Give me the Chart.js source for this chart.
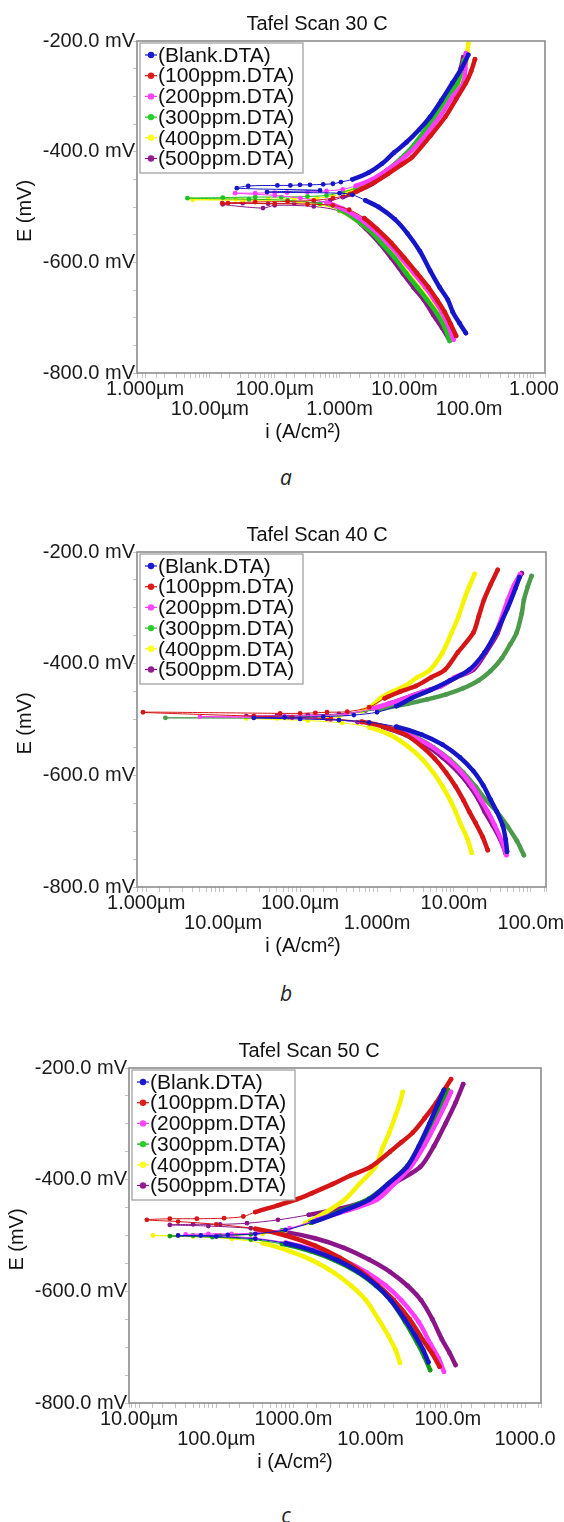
<!DOCTYPE html>
<html lang="en">
<head>
<meta charset="UTF-8">
<title>Tafel Scans</title>
<script src="https://cdn.jsdelivr.net/npm/chart.js@4.4.2/dist/chart.umd.min.js"></script>
<style>
  body { margin: 0; background: #fff; }
  .page { position: relative; width: 564px; height: 1522px; overflow: hidden; background: #fff; }
  .panel { position: absolute; left: 0; width: 564px; height: 450px; }
  .cap { position: absolute; width: 30px; text-align: center; font-family: 'Open Sans', sans-serif;
         font-style: italic; font-size: 21px; line-height: 24px; color: #222; }
</style>
</head>
<body>
<div class="page">
  <div class="panel" style="top:0"><canvas id="chartA" width="564" height="450"></canvas></div>
  <div class="cap" style="left:271px; top:465px">a</div>
  <div class="panel" style="top:510px"><canvas id="chartB" width="564" height="450"></canvas></div>
  <div class="cap" style="left:271px; top:981px">b</div>
  <div class="panel" style="top:1025px"><canvas id="chartC" width="564" height="450"></canvas></div>
  <div class="cap" style="left:271px; top:1503px">c</div>
</div>

<script>
// data: [current (A/cm2), potential (mV)], in scan order cathodic -> anodic
const seriesNames = ['(Blank.DTA)', '(100ppm.DTA)', '(200ppm.DTA)', '(300ppm.DTA)', '(400ppm.DTA)', '(500ppm.DTA)'];

// 30 C
const blank30 = [[8.9e-2,-728],[7.1e-2,-710],[5.6e-2,-690],[4.7e-2,-668],[3.5e-2,-645],[2.5e-2,-615],[1.74e-2,-580],[1.12e-2,-548],[7.1e-3,-522],[4.0e-3,-500],[2.5e-3,-488],[1.58e-3,-478],[1.0e-3,-475],[7.6e-5,-473],[5.0e-4,-470],[2.6e-5,-466],[3.9e-5,-462],[1.1e-4,-461],[1.74e-4,-461],[2.45e-4,-460],[3.5e-4,-460],[5.6e-4,-459],[7.9e-4,-458],[1.05e-3,-455],[1.58e-3,-450],[2.8e-3,-438],[4.5e-3,-422],[6.9e-3,-402],[1.08e-2,-383],[1.7e-2,-360],[2.5e-2,-337],[3.7e-2,-308],[5.5e-2,-276],[7.6e-2,-250],[9.7e-2,-225]];
const ppm100_30 = [[6.3e-2,-733],[5.2e-2,-712],[4.2e-2,-690],[3.2e-2,-668],[2.35e-2,-645],[1.58e-2,-620],[1.0e-2,-592],[6.3e-3,-565],[3.8e-3,-540],[2.4e-3,-520],[1.41e-3,-505],[7.9e-4,-497],[3.2e-4,-495],[1.0e-4,-494],[1.9e-5,-493],[1.55e-5,-493],[5.0e-5,-491],[1.58e-4,-490],[4.0e-4,-488],[7.9e-4,-484],[1.45e-3,-477],[2.24e-3,-467],[3.5e-3,-455],[5.6e-3,-440],[8.9e-3,-424],[1.32e-2,-410],[2.5e-2,-372],[4.3e-2,-337],[6.3e-2,-305],[8.9e-2,-276],[1.07e-1,-255],[1.23e-1,-233]];
const ppm200_30 = [[5.75e-2,-740],[4.8e-2,-715],[3.8e-2,-690],[2.9e-2,-668],[2.1e-2,-645],[1.41e-2,-620],[8.9e-3,-592],[5.6e-3,-566],[3.3e-3,-540],[2.0e-3,-520],[1.12e-3,-503],[6.3e-4,-492],[2.5e-4,-484],[1.0e-4,-479],[2.45e-5,-475],[5.0e-5,-475],[1.0e-4,-474],[1.55e-4,-474],[3.2e-4,-473],[6.3e-4,-471],[1.12e-3,-468],[1.78e-3,-462],[3.2e-3,-450],[5.6e-3,-432],[1.0e-2,-410],[1.66e-2,-385],[3.5e-2,-337],[5.6e-2,-300],[8.1e-2,-276],[8.7e-2,-250],[8.9e-2,-222]];
const ppm300_30 = [[5.0e-2,-742],[4.2e-2,-718],[3.2e-2,-693],[2.24e-2,-668],[1.58e-2,-645],[1.07e-2,-620],[7.1e-3,-592],[4.5e-3,-566],[2.8e-3,-540],[1.66e-3,-520],[1.0e-3,-505],[5.0e-4,-494],[1.58e-4,-488],[4.0e-5,-486],[4.5e-6,-484],[1.58e-5,-483],[5.0e-5,-482],[1.26e-4,-482],[3.2e-4,-481],[6.3e-4,-479],[1.12e-3,-473],[1.78e-3,-466],[3.2e-3,-452],[5.2e-3,-435],[8.9e-3,-412],[1.41e-2,-388],[2.9e-2,-337],[4.7e-2,-300],[6.6e-2,-276],[7.6e-2,-255],[8.3e-2,-234]];
const ppm400_30 = [[5.2e-2,-736],[4.4e-2,-712],[3.3e-2,-690],[2.35e-2,-668],[1.66e-2,-645],[1.12e-2,-620],[7.4e-3,-592],[4.7e-3,-566],[2.8e-3,-540],[1.66e-3,-520],[1.0e-3,-506],[5.0e-4,-496],[1.58e-4,-490],[3.2e-5,-488],[5.4e-6,-487],[2.5e-5,-486],[7.9e-5,-486],[2.0e-4,-485],[4.5e-4,-484],[7.9e-4,-480],[1.26e-3,-474],[1.9e-3,-466],[3.3e-3,-452],[5.6e-3,-433],[1.0e-2,-410],[1.58e-2,-385],[3.2e-2,-337],[5.0e-2,-305],[7.6e-2,-276],[8.9e-2,-245],[9.7e-2,-204]];
const ppm500_30 = [[4.8e-2,-737],[3.8e-2,-718],[2.8e-2,-695],[2.0e-2,-668],[1.38e-2,-645],[9.5e-3,-620],[6.3e-3,-592],[4.2e-3,-566],[2.6e-3,-540],[1.66e-3,-520],[1.0e-3,-507],[4.0e-4,-499],[1.0e-4,-497],[6.6e-5,-502],[1.58e-5,-495],[3.2e-5,-493],[7.9e-5,-494],[2.0e-4,-493],[4.0e-4,-492],[7.1e-4,-489],[1.12e-3,-482],[1.78e-3,-472],[3.2e-3,-458],[5.4e-3,-438],[9.3e-3,-412],[1.51e-2,-388],[2.8e-2,-337],[4.7e-2,-300],[6.3e-2,-276],[7.4e-2,-250],[8.1e-2,-229]];

// 40 C
const blank40 = [[4.9e-2,-737],[4.7e-2,-715],[4.3e-2,-690],[3.6e-2,-665],[3.0e-2,-644],[2.4e-2,-618],[1.78e-2,-592],[1.2e-2,-568],[7.1e-3,-545],[3.8e-3,-527],[1.78e-3,-513],[7.9e-4,-505],[3.2e-4,-501],[1.0e-4,-499],[2.5e-5,-497],[6.3e-5,-496],[2.0e-4,-495],[5.0e-4,-492],[1.0e-3,-487],[1.78e-3,-476],[2.8e-3,-462],[5.0e-3,-447],[8.9e-3,-430],[1.58e-2,-411],[2.5e-2,-380],[3.5e-2,-345],[5.0e-2,-300],[6.3e-2,-265],[7.1e-2,-245]];
const ppm100_40 = [[2.75e-2,-734],[2.35e-2,-710],[1.9e-2,-685],[1.58e-2,-665],[1.32e-2,-644],[1.05e-2,-620],[7.9e-3,-595],[5.6e-3,-570],[3.8e-3,-548],[2.4e-3,-528],[1.26e-3,-513],[6.3e-4,-504],[2.5e-4,-499],[7.9e-5,-496],[2.5e-5,-494],[9.1e-7,-487],[5.5e-5,-489],[1.0e-4,-489],[1.58e-4,-488],[2.24e-4,-487],[4.1e-4,-486],[7.9e-4,-478],[1.26e-3,-462],[2.0e-3,-450],[3.2e-3,-440],[5.0e-3,-425],[7.6e-3,-411],[1.12e-2,-380],[1.78e-2,-345],[2.1e-2,-315],[2.45e-2,-286],[3.0e-2,-258],[3.7e-2,-232]];
const ppm200_40 = [[4.8e-2,-743],[4.2e-2,-718],[3.4e-2,-690],[2.75e-2,-665],[2.24e-2,-644],[1.7e-2,-618],[1.2e-2,-592],[7.9e-3,-568],[4.8e-3,-546],[2.6e-3,-528],[1.32e-3,-514],[6.3e-4,-505],[2.5e-4,-500],[7.9e-5,-497],[5.0e-6,-495],[2.5e-5,-494],[6.3e-5,-494],[1.58e-4,-493],[4.0e-4,-490],[8.9e-4,-480],[1.58e-3,-470],[2.3e-3,-462],[4.0e-3,-450],[6.8e-3,-440],[1.0e-2,-425],[1.66e-2,-411],[2.5e-2,-380],[3.5e-2,-345],[5.0e-2,-286],[6.0e-2,-260],[7.2e-2,-240]];
const ppm300_40 = [[8.1e-2,-743],[6.6e-2,-718],[5.0e-2,-692],[3.6e-2,-665],[2.6e-2,-644],[1.9e-2,-620],[1.32e-2,-595],[8.9e-3,-572],[5.4e-3,-550],[3.2e-3,-532],[1.66e-3,-517],[7.9e-4,-507],[3.2e-4,-501],[1.0e-4,-498],[1.78e-6,-497],[2.5e-5,-497],[6.3e-5,-496],[1.58e-4,-494],[4.0e-4,-490],[1.0e-3,-482],[2.5e-3,-472],[4.5e-3,-464],[7.9e-3,-455],[1.32e-2,-444],[2.1e-2,-430],[3.0e-2,-413],[4.2e-2,-390],[5.4e-2,-365],[6.5e-2,-345],[7.6e-2,-310],[8.1e-2,-286],[9.1e-2,-262],[1.02e-1,-243]];
const ppm400_40 = [[1.7e-2,-739],[1.48e-2,-712],[1.2e-2,-685],[1.05e-2,-665],[8.9e-3,-644],[7.1e-3,-620],[5.4e-3,-595],[3.8e-3,-570],[2.5e-3,-548],[1.51e-3,-528],[7.9e-4,-514],[3.5e-4,-506],[1.26e-4,-502],[2.0e-5,-498],[5.0e-5,-498],[1.26e-4,-497],[3.2e-4,-495],[6.3e-4,-485],[8.9e-4,-474],[1.1e-3,-462],[1.58e-3,-450],[2.3e-3,-440],[3.3e-3,-425],[4.9e-3,-411],[7.1e-3,-380],[9.3e-3,-345],[1.15e-2,-315],[1.35e-2,-286],[1.58e-2,-262],[1.86e-2,-239]];
const ppm500_40 = [[4.7e-2,-740],[4.0e-2,-715],[3.2e-2,-690],[2.5e-2,-665],[2.1e-2,-644],[1.58e-2,-618],[1.1e-2,-592],[7.1e-3,-568],[4.3e-3,-546],[2.4e-3,-528],[1.2e-3,-514],[5.6e-4,-505],[2.24e-4,-499],[7.1e-5,-496],[2.0e-5,-494],[5.0e-5,-493],[1.26e-4,-492],[3.2e-4,-490],[7.1e-4,-484],[1.41e-3,-472],[2.3e-3,-462],[4.0e-3,-450],[6.8e-3,-440],[1.05e-2,-425],[1.78e-2,-411],[2.6e-2,-380],[3.7e-2,-345],[5.1e-2,-286],[6.3e-2,-260],[7.6e-2,-238]];

// 50 C
const blank50 = [[5.6e-2,-727],[4.8e-2,-705],[3.8e-2,-680],[2.75e-2,-650],[1.82e-2,-616],[1.2e-2,-590],[7.1e-3,-566],[3.8e-3,-545],[1.78e-3,-527],[7.9e-4,-514],[3.2e-4,-506],[1.0e-4,-502],[3.2e-5,-500],[6.3e-5,-500],[1.41e-4,-499],[3.2e-4,-497],[7.9e-4,-490],[1.78e-3,-476],[4.0e-3,-458],[9.5e-3,-436],[1.66e-2,-408],[2.95e-2,-377],[4.2e-2,-340],[5.75e-2,-300],[7.4e-2,-265],[8.9e-2,-239]];
const ppm100_50 = [[7.8e-2,-735],[6.3e-2,-712],[4.8e-2,-688],[3.2e-2,-650],[2.0e-2,-616],[1.26e-2,-590],[7.6e-3,-565],[4.0e-3,-540],[1.9e-3,-518],[7.9e-4,-500],[3.2e-4,-488],[1.0e-4,-480],[3.2e-5,-475],[1.26e-5,-472],[2.5e-5,-470],[5.6e-5,-470],[1.26e-4,-469],[2.24e-4,-466],[3.2e-4,-458],[6.3e-4,-446],[1.12e-3,-435],[1.74e-3,-424],[3.2e-3,-408],[5.6e-3,-392],[1.0e-2,-377],[1.78e-2,-350],[2.5e-2,-333],[3.5e-2,-316],[5.0e-2,-290],[7.1e-2,-262],[8.9e-2,-240],[1.1e-1,-220]];
const ppm200_50 = [[8.9e-2,-744],[7.6e-2,-720],[6.0e-2,-695],[4.2e-2,-655],[2.5e-2,-616],[1.58e-2,-590],[8.9e-3,-566],[4.5e-3,-545],[2.0e-3,-527],[7.9e-4,-513],[3.2e-4,-505],[1.0e-4,-500],[4.0e-5,-498],[7.9e-5,-497],[1.58e-4,-497],[3.5e-4,-495],[8.9e-4,-487],[2.0e-3,-472],[4.8e-3,-456],[1.2e-2,-436],[2.0e-2,-408],[3.3e-2,-377],[5.0e-2,-338],[7.1e-2,-298],[9.3e-2,-265],[1.1e-1,-243]];
const ppm300_50 = [[5.9e-2,-741],[5.0e-2,-718],[4.0e-2,-692],[2.8e-2,-655],[1.82e-2,-616],[1.17e-2,-590],[6.8e-3,-566],[3.5e-3,-545],[1.66e-3,-528],[7.1e-4,-515],[2.8e-4,-507],[8.9e-5,-503],[2.5e-5,-501],[5.0e-5,-500],[1.12e-4,-500],[2.8e-4,-498],[7.1e-4,-491],[1.66e-3,-477],[3.8e-3,-458],[9.5e-3,-434],[1.74e-2,-406],[3.0e-2,-375],[4.4e-2,-338],[6.3e-2,-298],[8.3e-2,-262],[1.0e-1,-239]];
const ppm400_50 = [[2.4e-2,-728],[2.1e-2,-705],[1.7e-2,-680],[1.26e-2,-650],[8.7e-3,-616],[5.6e-3,-590],[3.3e-3,-566],[1.78e-3,-545],[8.9e-4,-528],[4.0e-4,-514],[1.58e-4,-506],[5.0e-5,-502],[1.51e-5,-500],[3.2e-5,-500],[7.9e-5,-500],[1.78e-4,-499],[4.0e-4,-497],[7.9e-4,-491],[1.41e-3,-478],[2.5e-3,-460],[4.6e-3,-436],[7.1e-3,-408],[1.15e-2,-377],[1.41e-2,-345],[1.74e-2,-316],[2.1e-2,-285],[2.4e-2,-262],[2.6e-2,-243]];
const ppm500_50 = [[1.26e-1,-732],[1.05e-1,-710],[8.3e-2,-685],[6.3e-2,-650],[4.5e-2,-616],[3.0e-2,-590],[1.78e-2,-565],[9.5e-3,-543],[4.5e-3,-522],[1.9e-3,-505],[7.9e-4,-494],[2.8e-4,-487],[7.9e-5,-483],[2.5e-5,-481],[5.0e-5,-480],[1.12e-4,-480],[2.5e-4,-478],[6.3e-4,-472],[1.58e-3,-463],[4.0e-3,-452],[9.5e-3,-436],[2.1e-2,-405],[4.4e-2,-377],[6.6e-2,-340],[9.3e-2,-300],[1.26e-1,-262],[1.58e-1,-229]];

// x axis decade labels
const ticksA = ['1.000µm', '10.00µm', '100.0µm', '1.000m', '10.00m', '100.0m', '1.000'];
const ticksB = ['1.000µm', '10.00µm', '100.0µm', '1.000m', '10.00m', '100.0m'];
const ticksC = ['10.00µm', '100.0µm', '1000.0m', '10.00m', '100.0m', '1000.0'];

// ---- styles ----
Chart.defaults.font.family = '"Liberation Sans", Arial, sans-serif';
Chart.defaults.color = '#1a1a1a';
const FONT = '20px "Liberation Sans", Arial, sans-serif';
const lineColors = ['#1616c8', '#d61616', '#ff3cff', '#1fc01f', '#f4f400', '#8a168a'];
const markColors = ['#1a1ad0', '#e01a1a', '#ff44ff', '#2ad02a', '#ffff22', '#921c92'];

const tafelDecor = {
  id: 'tafelDecor',
  afterDatasetsDraw(chart, args, opts) {
    const { ctx, chartArea: a } = chart;
    ctx.save();
    ctx.strokeStyle = '#8c8c8c';
    ctx.lineWidth = 1.6;
    ctx.strokeRect(a.left, a.top, a.right - a.left, a.bottom - a.top);

    ctx.fillStyle = '#111';
    ctx.font = FONT;
    ctx.textAlign = 'center';
    ctx.textBaseline = 'middle';
    ctx.fillText(opts.title, a.left + 180, a.top - 17);
    ctx.fillText('i (A/cm²)', a.left + 166, a.bottom + 59);
    ctx.save();
    ctx.translate(a.left - 112, (a.top + a.bottom) / 2 + 4);
    ctx.rotate(-Math.PI / 2);
    ctx.fillText('E (mV)', 0, 0);
    ctx.restore();

    // legend box in the upper left corner
    const lx = a.left + 3, ly = a.top + 2, rowH = 20.7;
    ctx.fillStyle = '#fff';
    ctx.fillRect(lx, ly, 163, 130);
    ctx.strokeStyle = '#9a9a9a';
    ctx.lineWidth = 1.2;
    ctx.strokeRect(lx, ly, 163, 130);
    ctx.font = '21px "Liberation Sans", Arial, sans-serif';
    ctx.textAlign = 'left';
    chart.data.datasets.forEach((ds, k) => {
      const cy = a.top + 14 + k * rowH;
      ctx.strokeStyle = ds.borderColor;
      ctx.lineWidth = 1.2;
      ctx.beginPath();
      ctx.moveTo(a.left + 8, cy);
      ctx.lineTo(a.left + 20, cy);
      ctx.stroke();
      ctx.fillStyle = markColors[k];
      ctx.beginPath();
      ctx.arc(a.left + 14, cy, 3.2, 0, Math.PI * 2);
      ctx.fill();
      ctx.fillStyle = '#111';
      ctx.fillText(ds.label, a.left + 21, cy + 1);
    });
    ctx.restore();
  }
};

function makeDataset(points, k, color) {
  // corrosion potential = potential at the lowest current
  let ecorr = points[0][1], imin = Infinity;
  points.forEach(p => { if (p[0] < imin) { imin = p[0]; ecorr = p[1]; } });
  return {
    label: seriesNames[k],
    data: points.map(p => ({ x: p[0], y: p[1] })),
    showLine: true,
    tension: 0.3,
    borderColor: color,
    backgroundColor: color,
    pointBackgroundColor: color,
    pointBorderWidth: 0,
    pointRadius: 2.4,
    borderWidth: 4.5,
    borderJoinStyle: 'round',
    borderCapStyle: 'round',
    segment: {
      borderWidth: ctx => {
        const e0 = points[ctx.p0DataIndex][1], e1 = points[ctx.p1DataIndex][1];
        return Math.min(Math.abs(e0 - ecorr), Math.abs(e1 - ecorr)) > 12 ? 4.5 : 1;
      }
    }
  };
}

function makeChart(id, opt) {
  const colors = lineColors.slice();
  if (opt.green) colors[3] = opt.green;
  new Chart(document.getElementById(id), {
    type: 'scatter',
    data: { datasets: opt.series.map((s, k) => makeDataset(s, k, colors[k])) },
    options: {
      responsive: false,
      animation: false,
      layout: { padding: { top: opt.top, right: opt.right, left: 0, bottom: 0 } },
      plugins: { legend: { display: false }, tooltip: { enabled: false }, tafelDecor: { title: opt.title } },
      scales: {
        x: {
          type: 'logarithmic',
          min: opt.xmin,
          max: opt.xmax,
          afterFit: s => { s.height = 450 - opt.bottom; },
          border: { display: false },
          grid: { drawOnChartArea: false, drawTicks: true, tickLength: 5, color: '#c4c4c4' },
          ticks: {
            autoSkip: false,
            maxRotation: 0,
            padding: 2,
            font: { size: 20, lineHeight: 0.97 },
            callback: v => {
              const d = Math.log10(v), k = Math.round(d);
              if (Math.abs(d - k) > 1e-6) return '';
              const idx = k - opt.firstDecade;
              if (idx < 0 || idx >= opt.labels.length) return '';
              return idx % 2 === 0 ? [opt.labels[idx], ''] : ['', opt.labels[idx]];
            }
          }
        },
        y: {
          min: -800,
          max: -200,
          afterFit: s => { s.width = opt.left; },
          border: { display: false },
          grid: { drawOnChartArea: false, drawTicks: true, tickLength: 4, color: '#c4c4c4' },
          ticks: {
            stepSize: 50,
            padding: -2,
            font: { size: 20 },
            callback: v => (v % 200 === 0 ? v.toFixed(1) + ' mV' : '')
          }
        }
      }
    },
    plugins: [tafelDecor]
  });
}

makeChart('chartA', {
  title: 'Tafel Scan 30 C', series: [blank30, ppm100_30, ppm200_30, ppm300_30, ppm400_30, ppm500_30],
  top: 41, bottom: 373, left: 137, right: 19, xmin: 7.5e-7, xmax: 1.48, firstDecade: -6, labels: ticksA
});
makeChart('chartB', {
  title: 'Tafel Scan 40 C', series: [blank40, ppm100_40, ppm200_40, ppm300_40, ppm400_40, ppm500_40],
  top: 42, bottom: 377, left: 137, right: 18, xmin: 7.6e-7, xmax: 0.157, firstDecade: -6, labels: ticksB,
  green: '#4c9a4c'
});
makeChart('chartC', {
  title: 'Tafel Scan 50 C', series: [blank50, ppm100_50, ppm200_50, ppm300_50, ppm400_50, ppm500_50],
  top: 43, bottom: 378, left: 129, right: 23, xmin: 7.4e-6, xmax: 1.61, firstDecade: -5, labels: ticksC,
  green: '#139a13'
});
</script>
</body>
</html>
